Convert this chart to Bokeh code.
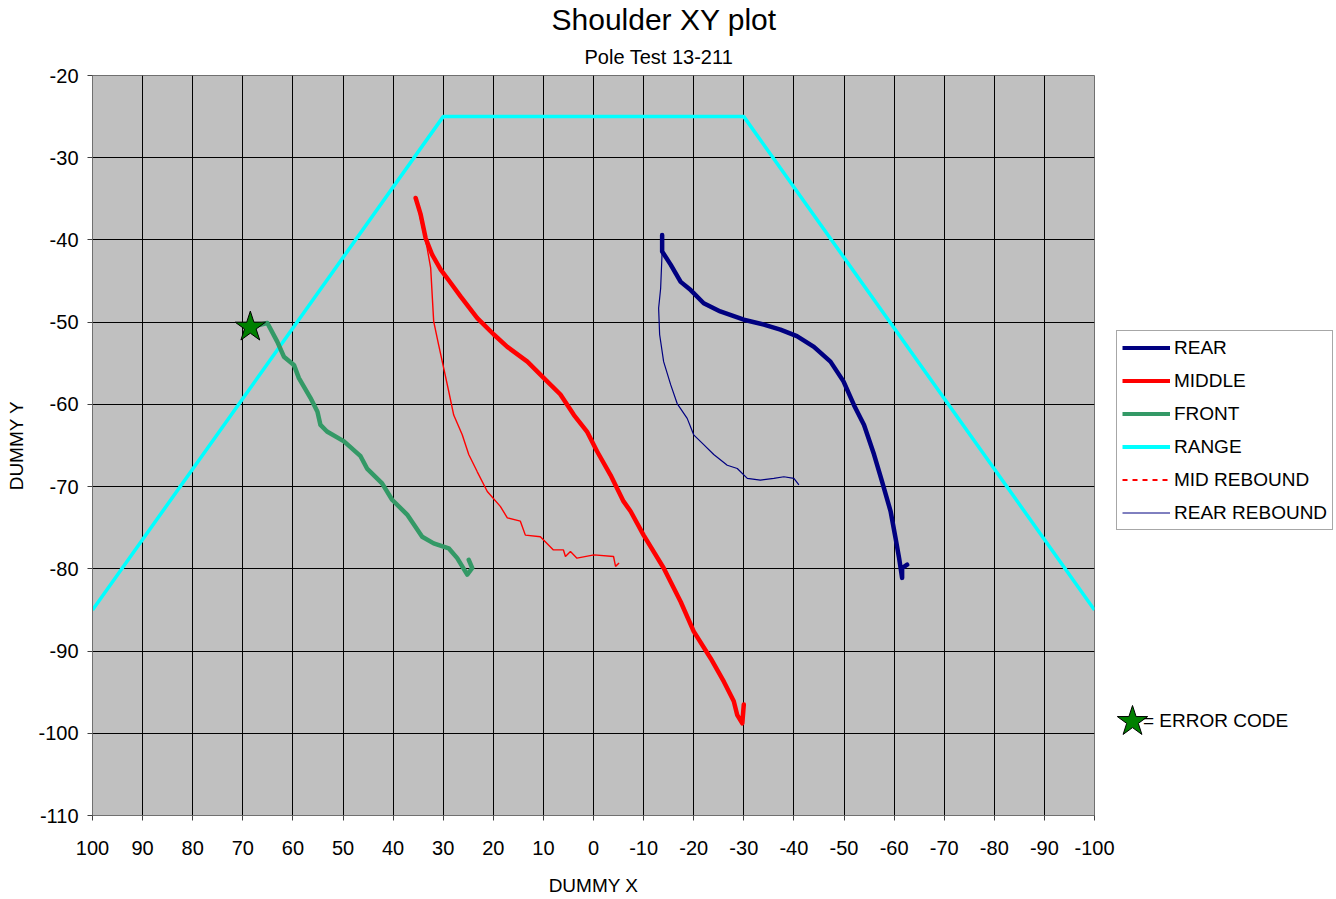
from bokeh.plotting import figure
from bokeh.layouts import row
from bokeh.models import (Range1d, Legend, LegendItem, Title, FixedTicker,
                          PrintfTickFormatter)
from bokeh.embed import file_html
from bokeh.resources import INLINE

# ---------------- data ----------------
rear_x = [-13.7, -13.7, -15.4, -17.4, -19.4, -22.0, -25.3, -30.0, -34.0, -37.3, -40.6,
          -44.0, -47.3, -49.9, -52.0, -54.0, -56.0, -57.6, -59.3, -60.3, -61.0, -61.6,
          -61.6, -62.6]
rear_y = [-39.4, -41.4, -43.0, -45.1, -46.1, -47.7, -48.7, -49.7, -50.3, -50.9, -51.7,
          -53.0, -54.8, -57.2, -60.1, -62.5, -66.1, -69.4, -73.0, -76.3, -78.7, -81.1,
          -79.9, -79.5]

rear_reb_x = [-13.7, -13.4, -13.0, -13.2, -14.0, -15.4, -16.7, -18.7, -20.0, -22.0,
              -24.0, -26.7, -28.7, -30.7, -33.3, -36.0, -38.0, -40.0, -41.0]
rear_reb_y = [-41.4, -45.9, -48.3, -51.5, -54.8, -57.6, -59.9, -61.7, -63.7, -64.9,
              -66.1, -67.4, -67.8, -69.0, -69.2, -69.0, -68.8, -69.0, -69.8]

middle_x = [35.5, 34.5, 33.5, 32.2, 30.5, 28.9, 26.5, 23.2, 19.9, 17.2, 13.2, 9.9, 6.6,
            3.9, 1.3, -0.7, -3.4, -6.0, -7.4, -10.0, -14.0, -17.4, -20.0, -23.4, -26.0,
            -28.0, -28.7, -29.7, -30.0]
middle_y = [-34.9, -36.9, -39.8, -41.8, -43.6, -44.9, -46.9, -49.5, -51.5, -53.0, -54.8,
            -56.8, -58.8, -61.3, -63.3, -65.7, -68.6, -71.8, -73.0, -75.9, -79.9, -84.0,
            -87.6, -90.9, -93.7, -96.1, -97.8, -98.8, -96.5]

mid_reb_x = [35.5, 33.2, 32.5, 31.9, 30.9, 29.9, 28.9, 27.9, 26.2, 24.9, 23.2, 21.2,
             18.6, 17.2, 14.6, 13.6, 10.6, 8.0, 6.0, 5.6, 4.6, 3.3, -0.1, -4.0, -4.4, -5.1]
mid_reb_y = [-34.9, -41.0, -43.4, -49.9, -52.8, -55.6, -58.4, -61.3, -63.7, -66.1, -68.2,
             -70.6, -72.4, -73.8, -74.2, -75.9, -76.1, -77.7, -77.7, -78.5, -77.9, -78.7,
             -78.3, -78.5, -79.7, -79.3]

front_x = [68.5, 65.1, 63.1, 61.8, 59.8, 58.8, 56.5, 55.1, 54.5, 53.2, 49.8, 46.5, 45.2,
           42.2, 40.2, 37.2, 34.2, 31.9, 28.9, 27.2, 25.2, 24.2, 24.9]
front_y = [-50.6, -50.1, -52.4, -54.2, -55.2, -56.8, -59.2, -60.9, -62.5, -63.3, -64.5,
           -66.3, -67.8, -69.6, -71.6, -73.4, -76.1, -76.9, -77.5, -78.7, -80.7, -79.9,
           -78.9]

range_x = [100, 30, -30, -100]
range_y = [-85, -25, -25, -85]

error_x = [68.5]
error_y = [-50.6]

x_ticks = list(range(-100, 101, 10))
y_ticks = list(range(-110, -19, 10))

series_names = ["REAR", "MIDDLE", "FRONT", "RANGE", "MID REBOUND", "REAR REBOUND"]
error_label = "= ERROR CODE"

FONT = "Liberation Sans"
W, H = 1336, 898
FRAME_L, FRAME_T, FRAME_W, FRAME_H = 92, 74, 1002, 740
RIGHT_PAD = 22          # room for the last x tick label

# ---------------- main figure ----------------
p = figure(title=None, frame_width=FRAME_W, frame_height=FRAME_H,
           x_range=Range1d(100, -100), y_range=Range1d(-110, -20),
           output_backend="svg", toolbar_location=None,
           min_border_left=FRAME_L, min_border_right=RIGHT_PAD, min_border_top=FRAME_T,
           min_border_bottom=H - FRAME_T - FRAME_H)

p.background_fill_color = "#C0C0C0"
p.border_fill_color = "white"
p.outline_line_color = "#707070"
p.outline_line_width = 1

for ax in (p.xaxis[0], p.yaxis[0]):
    ax.major_label_text_font = FONT
    ax.major_label_text_font_size = "20px"
    ax.major_label_text_color = "black"
    ax.axis_label_text_font = FONT
    ax.axis_label_text_font_size = "19px"
    ax.axis_label_text_font_style = "normal"
    ax.axis_label_text_color = "black"
    ax.axis_line_color = "#707070"
    ax.major_tick_line_color = "#404040"
    ax.major_tick_out = 5
    ax.major_tick_in = 0
    ax.minor_tick_line_color = None
    ax.formatter = PrintfTickFormatter(format="%d")

p.xaxis.ticker = FixedTicker(ticks=x_ticks)
p.yaxis.ticker = FixedTicker(ticks=y_ticks)
p.xaxis.axis_label = "DUMMY X"
p.yaxis.axis_label = "DUMMY Y"
p.xaxis.major_label_standoff = 20
p.yaxis.major_label_standoff = 9
p.xaxis.axis_label_standoff = 17
p.yaxis.axis_label_standoff = 8

p.xgrid.ticker = FixedTicker(ticks=x_ticks)
p.ygrid.ticker = FixedTicker(ticks=y_ticks)
p.grid.grid_line_color = "black"
p.grid.grid_line_alpha = 1.0
p.grid.grid_line_width = 1

p.add_layout(Title(text="Pole Test 13-211", align="left", offset=492,
                   text_font=FONT, text_font_size="20px", text_font_style="normal",
                   text_color="black", standoff=16), "above")
p.add_layout(Title(text="Shoulder XY plot", align="left", offset=459,
                   text_font=FONT, text_font_size="30px", text_font_style="normal",
                   text_color="black", standoff=0), "above")

# ---------------- series ----------------
p.line(range_x, range_y, line_color="#00FFFF", line_width=3.5)
p.line(rear_reb_x, rear_reb_y, line_color="#000080", line_width=1.2)
p.line(mid_reb_x, mid_reb_y, line_color="#FF0000", line_width=1.4)
p.line(front_x, front_y, line_color="#339966", line_width=4.5,
       line_join="round", line_cap="round")
p.line(middle_x, middle_y, line_color="#FF0000", line_width=4.5,
       line_join="round", line_cap="round")
p.line(rear_x, rear_y, line_color="#000080", line_width=4.5,
       line_join="round", line_cap="round")
p.scatter(error_x, error_y, marker="star", size=32,
          fill_color="#008000", line_color="black", line_width=1)

# ---------------- legend panel (second figure to the right) ----------------
QX0 = FRAME_L + FRAME_W + RIGHT_PAD       # page x where q starts
QW = W - QX0
q = figure(title=None, frame_width=QW, frame_height=H,
           x_range=Range1d(0, 1), y_range=Range1d(0, 1),
           output_backend="svg", toolbar_location=None, min_border=0)
q.axis.visible = False
q.grid.visible = False
q.outline_line_color = None
q.background_fill_color = "white"
q.border_fill_color = "white"

off_x, off_y = [-20, -10], [-20, -20]     # legend-only glyphs, kept off canvas
lg = [
    q.line(off_x, off_y, line_color="#000080", line_width=4),
    q.line(off_x, off_y, line_color="#FF0000", line_width=4),
    q.line(off_x, off_y, line_color="#339966", line_width=4),
    q.line(off_x, off_y, line_color="#00FFFF", line_width=4),
    q.line(off_x, off_y, line_color="#FF0000", line_width=2, line_dash="5 5"),
    q.line(off_x, off_y, line_color="#000080", line_width=1),
]
legend = Legend(items=[LegendItem(label=n, renderers=[r]) for n, r in zip(series_names, lg)],
                location=(max(1115 - QX0, 0), H - 530),
                label_text_font=FONT, label_text_font_size="19px",
                label_text_color="black", glyph_width=48, glyph_height=23,
                label_height=23, label_standoff=4, spacing=10, padding=5, margin=0,
                border_line_color="#505050", border_line_width=1,
                background_fill_color="white", background_fill_alpha=1.0)
q.add_layout(legend)

# error-code key: star marker (legend glyph) and its text (legend label)
star_lg = q.scatter(off_x, off_y, marker="star", fill_color="#008000",
                    line_color="black", line_width=1)
KEY_X, KEY_Y = 1132 - QX0, H - 721       # star centre, screen units in q
err_legend = Legend(items=[LegendItem(label=" ", renderers=[star_lg])],
                    location=(KEY_X - 40, KEY_Y - 40), label_text_font_size="1px",
                    glyph_width=80, glyph_height=80, label_height=80, label_width=0,
                    label_standoff=0, padding=0, margin=0,
                    border_line_alpha=0, background_fill_alpha=0)
q.add_layout(err_legend)

blank = q.line(off_x, off_y, line_alpha=0)
txt_legend = Legend(items=[LegendItem(label=error_label, renderers=[blank])],
                    location=(KEY_X + 10, KEY_Y - 12), label_text_font=FONT,
                    label_text_font_size="19px", label_text_color="black",
                    glyph_width=1, glyph_height=24, label_height=24,
                    label_standoff=0, padding=0, margin=0,
                    border_line_alpha=0, background_fill_alpha=0)
q.add_layout(txt_legend)

layout = row(p, q, spacing=0)
open("out.html", "w").write(file_html(layout, INLINE))
